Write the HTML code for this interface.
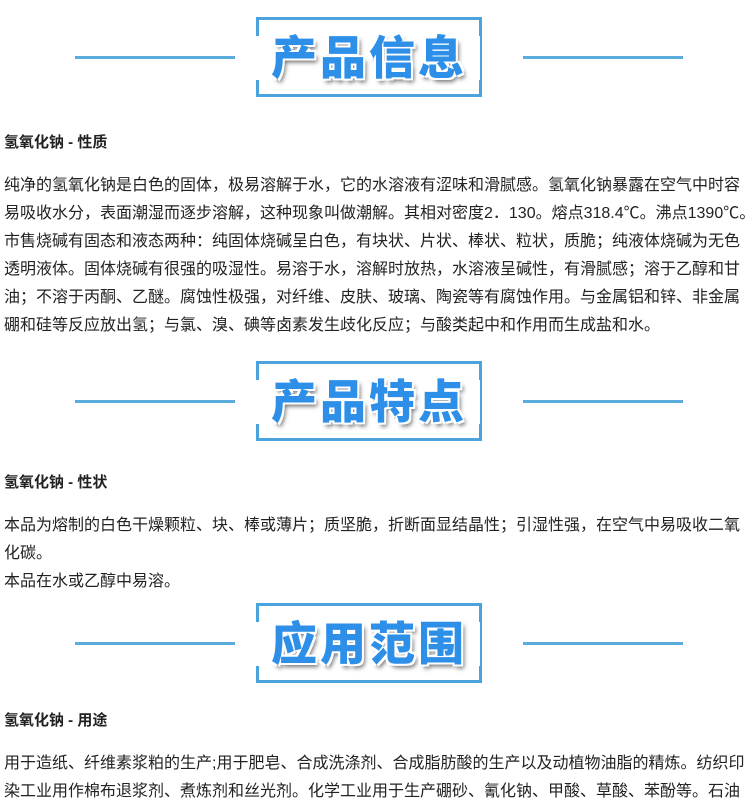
<!DOCTYPE html>
<html><head><meta charset="utf-8"><style>
body{margin:0;width:754px;height:806px;background:#fff;position:relative;overflow:hidden;font-family:"Liberation Sans","Noto Sans CJK SC",sans-serif;color:#222}
.l{position:absolute;left:4px;font-size:16px;white-space:nowrap;line-height:20px}
.t{font-weight:bold;font-size:15px}
.ban{position:absolute;left:0;width:754px;height:82px}
.box{position:absolute;left:256px;width:226px;height:80px;border:3px solid #4aa3dc;box-sizing:border-box}
.gap{position:absolute;background:#fff;width:240px;left:240px;height:44px;top:19px}
.ln{position:absolute;top:39px;height:3px;background:#5aacdc}
.txt{position:absolute;left:256px;width:226px;top:13px;text-align:center;font-size:46px;font-weight:900;color:#2d8fe8;letter-spacing:3px;text-shadow:-2px -2px 0 #fff,2px -2px 0 #fff,-2px 2px 0 #fff,2px 2px 0 #fff,3px 4px 4px #777;line-height:56px}
</style></head><body>
<div class="ban" style="top:17px"><div class="box"></div><div class="gap"></div><div class="ln" style="left:75px;width:160px"></div><div class="ln" style="left:523px;width:160px"></div><div class="txt">产品信息</div></div>
<div class="l t" style="top:133px">氢氧化钠 - 性质</div>
<div class="l" style="top:176px">纯净的氢氧化钠是白色的固体，极易溶解于水，它的水溶液有涩味和滑腻感。氢氧化钠暴露在空气中时容</div>
<div class="l" style="top:204px">易吸收水分，表面潮湿而逐步溶解，这种现象叫做潮解。其相对密度2．130。熔点318.4℃。沸点1390℃。</div>
<div class="l" style="top:232px">市售烧碱有固态和液态两种：纯固体烧碱呈白色，有块状、片状、棒状、粒状，质脆；纯液体烧碱为无色</div>
<div class="l" style="top:260px">透明液体。固体烧碱有很强的吸湿性。易溶于水，溶解时放热，水溶液呈碱性，有滑腻感；溶于乙醇和甘</div>
<div class="l" style="top:288px">油；不溶于丙酮、乙醚。腐蚀性极强，对纤维、皮肤、玻璃、陶瓷等有腐蚀作用。与金属铝和锌、非金属</div>
<div class="l" style="top:316px">硼和硅等反应放出氢；与氯、溴、碘等卤素发生歧化反应；与酸类起中和作用而生成盐和水。</div>
<div class="ban" style="top:361px"><div class="box"></div><div class="gap"></div><div class="ln" style="left:75px;width:160px"></div><div class="ln" style="left:523px;width:160px"></div><div class="txt">产品特点</div></div>
<div class="l t" style="top:473px">氢氧化钠 - 性状</div>
<div class="l" style="top:516px">本品为熔制的白色干燥颗粒、块、棒或薄片；质坚脆，折断面显结晶性；引湿性强，在空气中易吸收二氧</div>
<div class="l" style="top:544px">化碳。</div>
<div class="l" style="top:572px">本品在水或乙醇中易溶。</div>
<div class="ban" style="top:603px"><div class="box"></div><div class="gap"></div><div class="ln" style="left:75px;width:160px"></div><div class="ln" style="left:523px;width:160px"></div><div class="txt">应用范围</div></div>
<div class="l t" style="top:711px">氢氧化钠 - 用途</div>
<div class="l" style="top:754px">用于造纸、纤维素浆粕的生产;用于肥皂、合成洗涤剂、合成脂肪酸的生产以及动植物油脂的精炼。纺织印</div>
<div class="l" style="top:782px">染工业用作棉布退浆剂、煮炼剂和丝光剂。化学工业用于生产硼砂、氰化钠、甲酸、草酸、苯酚等。石油</div>
</body></html>
